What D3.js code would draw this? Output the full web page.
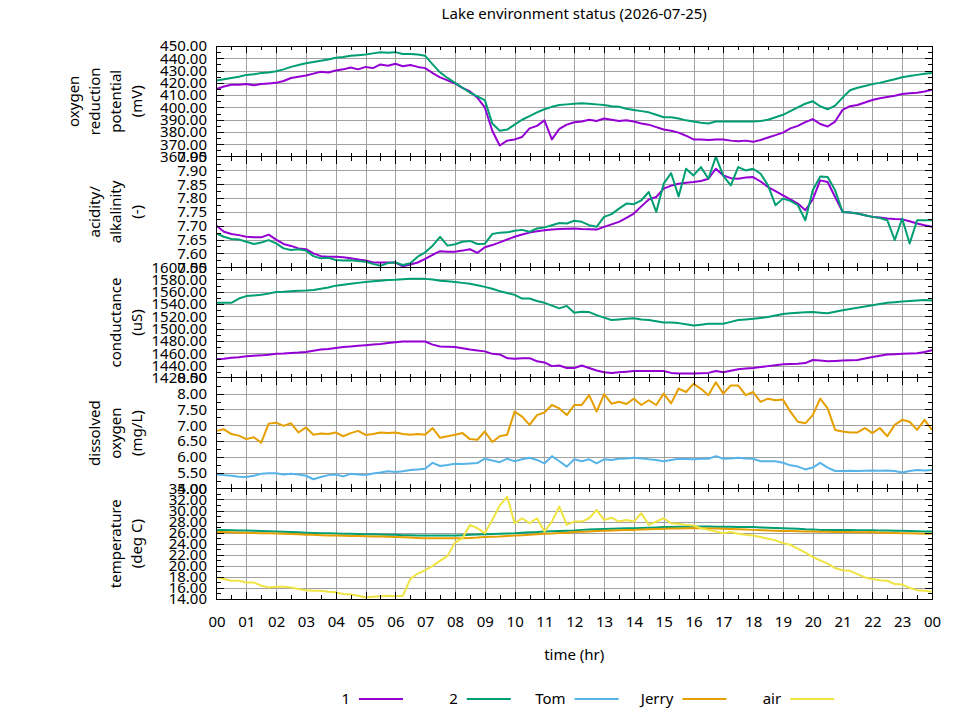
<!DOCTYPE html>
<html>
<head>
<meta charset="utf-8">
<script src="https://cdn.jsdelivr.net/npm/d3@7"></script>
<style>
  body { margin: 0; background: #fff; }
  svg { display: block; }
  text { font-family: "Noto Sans", sans-serif; font-size: 15px; fill: #000; }
</style>
</head>
<body>
<div id="chart"></div>
<script>
// ---- data (15 minute samples, one row per hour) ----
const hours = [
  0, 0.25, 0.5, 0.75, 1, 1.25, 1.5, 1.75, 2, 2.25, 2.5, 2.75,
  3, 3.25, 3.5, 3.75, 4, 4.25, 4.5, 4.75, 5, 5.25, 5.5, 5.75,
  6, 6.25, 6.5, 6.75, 7, 7.25, 7.5, 7.75, 8, 8.25, 8.5, 8.75,
  9, 9.25, 9.5, 9.75, 10, 10.25, 10.5, 10.75, 11, 11.25, 11.5, 11.75,
  12, 12.25, 12.5, 12.75, 13, 13.25, 13.5, 13.75, 14, 14.25, 14.5, 14.75,
  15, 15.25, 15.5, 15.75, 16, 16.25, 16.5, 16.75, 17, 17.25, 17.5, 17.75,
  18, 18.25, 18.5, 18.75, 19, 19.25, 19.5, 19.75, 20, 20.25, 20.5, 20.75,
  21, 21.25, 21.5, 21.75, 22, 22.25, 22.5, 22.75, 23, 23.25, 23.5, 23.75,
  24
];

const orp1 = [
  415, 417, 418.5, 418.5,   419, 418, 419, 419.5,     420, 421.5, 424, 425,
  426, 427.5, 429, 428.5,   430, 431, 432.5, 431,     433, 432, 435, 434,
  435.5, 433.5, 434.5, 433, 432, 428, 424.5, 422,     419.5, 416, 413, 408,
  400, 381, 369, 373,       374, 376, 383, 385,       389.5, 374, 382.5, 386,
  388, 388.5, 390, 389,     391, 390, 389, 389.5,     388.5, 387, 386, 384,
  382, 381, 379.5, 377,     374, 374, 373.5, 374,     374, 373, 372.5, 373,
  372, 373.5, 375.5, 377.5, 379.5, 383, 385, 388,     390.5, 386.5, 384.5, 388.5,
  398, 401, 402, 404,       406, 407.5, 408.5, 409.5, 411, 411.5, 412, 413,
  414.5
];
const orp2 = [
  422, 423, 424, 425,       426.5, 427, 428, 428.5,   429.5, 431, 433, 434.5,
  436, 437, 438, 439,       440.5, 441, 442, 442.5,   443, 444, 445, 444.5,
  445, 443.5, 443.5, 443,   442, 435, 428.5, 424,     420, 416, 412, 409,
  406, 387, 381, 382,       386, 390, 393, 396,       398.5, 400.5, 402, 402.5,
  403, 403.5, 403, 402.5,   402, 401, 400.5, 399,     398, 397, 396, 394,
  392, 392, 391, 389.5,     388.5, 387.5, 387, 388.5, 388.5, 388.5, 388.5, 388.5,
  388.5, 389, 390, 392,     394, 397, 400, 403,       405, 401, 398.5, 401.5,
  408, 414, 416, 417.5,     419, 420, 421.5, 423,     424.5, 425.5, 426.5, 427.5,
  428
];

const ph1 = [
  7.700, 7.678, 7.670, 7.666, 7.660, 7.658, 7.658, 7.668, 7.650, 7.634, 7.627, 7.618,
  7.615, 7.600, 7.590, 7.588, 7.588, 7.586, 7.582, 7.578, 7.574, 7.567, 7.567, 7.567,
  7.567, 7.553, 7.560, 7.567, 7.580, 7.595, 7.608, 7.606, 7.606, 7.610, 7.615, 7.602,
  7.622, 7.630, 7.640, 7.650, 7.660, 7.668, 7.675, 7.680, 7.684, 7.686, 7.688, 7.689,
  7.690, 7.688, 7.687, 7.686, 7.696, 7.705, 7.714, 7.728, 7.744, 7.770, 7.795, 7.804,
  7.834, 7.845, 7.852, 7.855, 7.858, 7.862, 7.870, 7.906, 7.882, 7.872, 7.870, 7.874,
  7.876, 7.860, 7.840, 7.825, 7.810, 7.795, 7.780, 7.756, 7.795, 7.864, 7.858, 7.804,
  7.750, 7.748, 7.744, 7.738, 7.732, 7.730, 7.726, 7.724, 7.723, 7.716, 7.708, 7.702,
  7.696
];
const ph2 = [
  7.672, 7.660, 7.652, 7.650, 7.642, 7.634, 7.639, 7.648, 7.636, 7.618, 7.612, 7.615,
  7.610, 7.590, 7.582, 7.584, 7.576, 7.574, 7.575, 7.572, 7.570, 7.562, 7.555, 7.565,
  7.567, 7.558, 7.564, 7.588, 7.604, 7.628, 7.660, 7.628, 7.633, 7.642, 7.645, 7.634,
  7.635, 7.670, 7.675, 7.676, 7.682, 7.685, 7.678, 7.690, 7.694, 7.702, 7.710, 7.708,
  7.718, 7.714, 7.702, 7.696, 7.732, 7.742, 7.762, 7.780, 7.778, 7.792, 7.822, 7.750,
  7.852, 7.890, 7.806, 7.906, 7.882, 7.912, 7.870, 7.950, 7.880, 7.846, 7.912, 7.900,
  7.906, 7.888, 7.846, 7.774, 7.798, 7.790, 7.774, 7.720, 7.828, 7.878, 7.876, 7.828,
  7.750, 7.748, 7.744, 7.738, 7.732, 7.728, 7.720, 7.648, 7.726, 7.636, 7.720, 7.720,
  7.720
];

const cond1 = [
  1450, 1451, 1452.5, 1453.5, 1455, 1456, 1456.5, 1457.5, 1459, 1459.5, 1460.5, 1461,
  1462, 1464, 1466, 1467,     1468.5, 1470, 1471, 1472,   1473, 1474, 1475, 1476.5,
  1478, 1479, 1479, 1479,     1479, 1474, 1471, 1470.5,   1470, 1468, 1466, 1464.5,
  1463, 1459, 1458, 1452,     1451, 1452, 1452, 1447,     1445, 1439, 1440, 1436,
  1436, 1440, 1436, 1432,     1429, 1428, 1429, 1430,     1431, 1431, 1431, 1431,
  1431, 1428, 1427, 1427,     1427, 1427.5, 1428, 1431,   1429, 1431.5, 1434, 1435,
  1436, 1437.5, 1439, 1440.5, 1442, 1442.5, 1443, 1444,   1449, 1448, 1447, 1447.5,
  1448, 1448.5, 1449, 1451.5, 1454, 1456, 1458, 1458.5,   1459, 1459.5, 1460, 1462,
  1465
];
const cond2 = [
  1542, 1542, 1542, 1549,     1553, 1554, 1555, 1557,     1559.5, 1560, 1561, 1561.5,
  1562, 1563, 1565, 1567,     1570, 1571.5, 1573, 1574.5, 1576, 1577, 1578, 1579,
  1579.5, 1580.5, 1581, 1581, 1581, 1580, 1578, 1577,     1576, 1574.5, 1573, 1570.5,
  1568, 1565, 1561, 1558,     1555, 1549, 1549, 1545,     1542, 1537.5, 1533, 1537,
  1526, 1527.5, 1527, 1522,   1518, 1514, 1515, 1516,     1517, 1515, 1514, 1512,
  1510, 1510, 1509, 1507,     1505, 1506.5, 1508, 1508,   1508, 1511, 1514, 1515,
  1516, 1517.5, 1519, 1521.5, 1524, 1525, 1526, 1526.5,   1527, 1526, 1525, 1527.5,
  1530, 1532, 1534, 1536,     1538, 1540, 1542, 1543,     1544, 1545, 1546, 1546.5,
  1546
];

const doTom = [
  5.44, 5.42, 5.40, 5.37, 5.36, 5.40, 5.46, 5.48, 5.48, 5.44, 5.46, 5.44,
  5.40, 5.29, 5.36, 5.42, 5.44, 5.38, 5.46, 5.44, 5.42, 5.47, 5.50, 5.54,
  5.52, 5.54, 5.58, 5.60, 5.62, 5.81, 5.71, 5.74, 5.78, 5.77, 5.79, 5.80,
  5.94, 5.88, 5.83, 5.94, 5.86, 5.92, 5.97, 5.90, 5.79, 6.02, 5.86, 5.69,
  5.92, 5.86, 5.92, 5.79, 5.92, 5.90, 5.94, 5.95, 5.97, 5.95, 5.92, 5.90,
  5.86, 5.90, 5.94, 5.93, 5.92, 5.94, 5.94, 6.02, 5.94, 5.95, 5.97, 5.95,
  5.94, 5.86, 5.86, 5.86, 5.81, 5.73, 5.69, 5.60, 5.66, 5.81, 5.66, 5.55,
  5.55, 5.56, 5.55, 5.56, 5.57, 5.56, 5.57, 5.55, 5.50, 5.55, 5.58, 5.57,
  5.58
];
const doJerry = [
  6.82, 6.87, 6.72, 6.67, 6.56, 6.62, 6.45, 7.05, 7.08, 6.98, 7.06, 6.77,
  6.93, 6.70, 6.74, 6.72, 6.77, 6.65, 6.75, 6.82, 6.69, 6.72, 6.77, 6.75,
  6.77, 6.72, 6.70, 6.72, 6.70, 6.91, 6.60, 6.65, 6.70, 6.75, 6.56, 6.54,
  6.80, 6.47, 6.65, 6.70, 7.43, 7.27, 7.01, 7.32, 7.40, 7.64, 7.53, 7.32,
  7.64, 7.64, 7.95, 7.43, 7.98, 7.68, 7.74, 7.67, 7.84, 7.64, 7.79, 7.64,
  8.00, 7.69, 8.16, 8.05, 8.31, 8.15, 7.95, 8.36, 8.00, 8.26, 8.26, 7.95,
  8.05, 7.74, 7.84, 7.79, 7.81, 7.43, 7.11, 7.06, 7.32, 7.84, 7.53, 6.85,
  6.80, 6.77, 6.77, 6.91, 6.75, 6.91, 6.65, 7.01, 7.17, 7.11, 6.85, 7.17,
  6.85
];

const temp2 = [
  26.5, 26.5, 26.45, 26.4,   26.4, 26.35, 26.3, 26.25,  26.2, 26.15, 26.1, 26.05,
  26.0, 25.95, 25.9, 25.9,   25.85, 25.8, 25.8, 25.75,  25.7, 25.7, 25.65, 25.6,
  25.6, 25.55, 25.55, 25.5,  25.5, 25.5, 25.5, 25.5,    25.5, 25.55, 25.6, 25.65,
  25.7, 25.75, 25.8, 25.85,  25.9, 26.0, 26.05, 26.1,   26.2, 26.25, 26.3, 26.35,
  26.4, 26.5, 26.55, 26.6,   26.65, 26.7, 26.75, 26.8,  26.8, 26.85, 26.9, 26.95,
  27.0, 27.0, 27.05, 27.05,  27.1, 27.1, 27.1, 27.05,   27.05, 27.05, 27.0, 27.0,
  27.0, 26.95, 26.9, 26.85,  26.8, 26.75, 26.7, 26.6,   26.55, 26.5, 26.5, 26.5,
  26.5, 26.5, 26.45, 26.45,  26.45, 26.4, 26.4, 26.35,  26.35, 26.3, 26.25, 26.2,
  26.2
];
const tempJerry = [
  26.1, 26.1, 26.05, 26.0,   26.0, 25.95, 25.9, 25.9,   25.85, 25.8, 25.75, 25.7,
  25.6, 25.6, 25.55, 25.5,   25.5, 25.45, 25.4, 25.4,   25.35, 25.3, 25.3, 25.25,
  25.2, 25.15, 25.1, 25.05,  25.0, 25.0, 25.0, 25.0,    25.0, 25.0, 25.05, 25.1,
  25.2, 25.25, 25.3, 25.4,   25.5, 25.55, 25.6, 25.7,   25.8, 25.85, 25.95, 26.0,
  26.1, 26.15, 26.2, 26.3,   26.35, 26.4, 26.45, 26.5,  26.5, 26.55, 26.6, 26.65,
  26.7, 26.75, 26.75, 26.8,  26.8, 26.8, 26.75, 26.75,  26.7, 26.65, 26.6, 26.55,
  26.5, 26.45, 26.4, 26.35,  26.3, 26.3, 26.25, 26.2,   26.2, 26.15, 26.15, 26.1,
  26.1, 26.1, 26.05, 26.05,  26.1, 26.0, 26.0, 25.95,   25.9, 25.9, 25.85, 25.8,
  25.8
];
const tempAir = [
  17.9, 17.6, 17.3, 17.3,  17.0, 17.0, 16.4, 16.1,  16.2, 16.2, 16.1, 15.8,
  15.6, 15.5, 15.5, 15.3,  15.2, 14.9, 14.8, 14.6,  14.3, 14.4, 14.5, 14.6,
  14.5, 14.6, 17.6, 18.6,  19.2, 20.0, 20.9, 21.8,  24.2, 25.0, 27.4, 26.8,
  25.9, 28.3, 30.9, 32.5,  27.7, 28.6, 27.7, 28.6,  26.2, 28.0, 30.7, 27.4,
  28.0, 28.0, 28.6, 30.1,  28.3, 28.7, 28.0, 28.3,  28.0, 29.5, 27.4, 28.0,
  28.6, 27.7, 27.6, 27.4,  27.3, 26.8, 26.5, 26.2,  25.9, 26.1, 25.8, 25.6,
  25.5, 25.2, 24.9, 24.6,  24.1, 23.8, 23.1, 22.4,  21.6, 21.0, 20.4, 19.6,
  19.2, 19.1, 18.5, 17.9,  17.6, 17.4, 17.3, 16.7,  16.6, 16.0, 15.6, 15.5,
  15.3
];

// ---- axes ----
const hourTicks = [0, 1, 2, 3, 4, 5, 6, 7, 8, 9, 10, 11, 12, 13, 14, 15, 16, 17, 18, 19, 20, 21, 22, 23, 24];
const hourLabels = ["00", "01", "02", "03", "04", "05", "06", "07", "08", "09", "10", "11",
  "12", "13", "14", "15", "16", "17", "18", "19", "20", "21", "22", "23", "00"];

const orpTicks = [360, 370, 380, 390, 400, 410, 420, 430, 440, 450];
const phTicks = [7.55, 7.60, 7.65, 7.70, 7.75, 7.80, 7.85, 7.90, 7.95];
const condTicks = [1420, 1440, 1460, 1480, 1500, 1520, 1540, 1560, 1580, 1600];
const doTicks = [5.00, 5.50, 6.00, 6.50, 7.00, 7.50, 8.00, 8.50];
const tempTicks = [14, 16, 18, 20, 22, 24, 26, 28, 30, 32, 34];

const chartTitle = "Lake environment status (2026-07-25)";
const xTitle = "time (hr)";

const seriesNames = ["1", "2", "Tom", "Jerry", "air"];
const seriesColors = ["#9400d3", "#009e73", "#56b4e9", "#e69f00", "#f0e442"];

const panelTitles = [
  ["oxygen", "reduction", "potential", "(mV)"],
  ["acidity/", "alkalinity", "(-)"],
  ["conductance", "(uS)"],
  ["dissolved", "oxygen", "(mg/L)"],
  ["temperature", "(deg C)"]
];
const panelTicks = [orpTicks, phTicks, condTicks, doTicks, tempTicks];
const panelSeries = [
  [["1", orp1], ["2", orp2]],
  [["1", ph1], ["2", ph2]],
  [["1", cond1], ["2", cond2]],
  [["Tom", doTom], ["Jerry", doJerry]],
  [["2", temp2], ["Jerry", tempJerry], ["air", tempAir]]
];

// ---- layout ----
const width = 960, height = 720;
const plotLeft = 216.5, plotRight = 932;
const panelTops = [46, 156.6, 267.2, 377.8, 488.4];
const panelH = 110.6;
const gridColor = "#a0a0a0";
const majorLen = 7, minorLen = 4;

const color = d3.scaleOrdinal().domain(seriesNames).range(seriesColors);
const x = d3.scaleLinear().domain([0, 24]).range([plotLeft, plotRight]);

const svg = d3.select("#chart").append("svg")
  .attr("width", width)
  .attr("height", height)
  .attr("viewBox", `0 0 ${width} ${height}`);

svg.append("text")
  .attr("x", (plotLeft + plotRight) / 2)
  .attr("y", 19)
  .attr("text-anchor", "middle")
  .text(chartTitle);

const halfHours = hourTicks.slice(0, -1).map(h => h + 0.5);

// black inward ticks on a panel edge
function edgeTicks(g, axis, transform, len) {
  g.append("g")
    .attr("transform", transform)
    .call(axis.tickSize(-len).tickFormat(""))
    .call(a => a.select(".domain").remove())
    .call(a => a.selectAll("line").attr("stroke", "#000").attr("shape-rendering", "crispEdges"));
}

panelTicks.forEach((ticks, i) => {
  const top = panelTops[i], bottom = top + panelH;
  const y = d3.scaleLinear().domain([ticks[0], ticks[ticks.length - 1]]).range([bottom, top]);
  const minorY = ticks.slice(0, -1).map((t, k) => (t + ticks[k + 1]) / 2);
  const g = svg.append("g").attr("class", "panel");

  // grid
  g.append("g")
    .attr("transform", `translate(0,${bottom})`)
    .call(d3.axisBottom(x).tickValues(hourTicks.slice(1, -1)).tickSize(-panelH).tickFormat(""))
    .call(a => a.select(".domain").remove())
    .call(a => a.selectAll("line").attr("stroke", gridColor).attr("shape-rendering", "crispEdges"));
  g.append("g")
    .attr("transform", `translate(${plotLeft},0)`)
    .call(d3.axisLeft(y).tickValues(ticks.slice(1, -1)).tickSize(-(plotRight - plotLeft)).tickFormat(""))
    .call(a => a.select(".domain").remove())
    .call(a => a.selectAll("line").attr("stroke", gridColor).attr("shape-rendering", "crispEdges"));

  // data
  const clipId = `clip-${i}`;
  g.append("clipPath").attr("id", clipId)
    .append("rect")
    .attr("x", plotLeft).attr("y", top)
    .attr("width", plotRight - plotLeft).attr("height", panelH);

  const line = d3.line()
    .x((d, k) => x(hours[k]))
    .y(d => y(d));

  panelSeries[i].forEach(([name, values]) => {
    g.append("path")
      .datum(values)
      .attr("clip-path", `url(#${clipId})`)
      .attr("fill", "none")
      .attr("stroke", color(name))
      .attr("stroke-width", 2)
      .attr("stroke-linejoin", "round")
      .attr("d", line);
  });

  // border
  g.append("rect")
    .attr("x", plotLeft).attr("y", top)
    .attr("width", plotRight - plotLeft).attr("height", panelH)
    .attr("fill", "none")
    .attr("stroke", "#000")
    .attr("shape-rendering", "crispEdges");

  // ticks on all four sides
  const inner = ticks.slice(1, -1);
  const innerHours = hourTicks.slice(1, -1);
  edgeTicks(g, d3.axisLeft(y).tickValues(inner), `translate(${plotLeft},0)`, majorLen);
  edgeTicks(g, d3.axisRight(y).tickValues(inner), `translate(${plotRight},0)`, majorLen);
  edgeTicks(g, d3.axisLeft(y).tickValues(minorY), `translate(${plotLeft},0)`, minorLen);
  edgeTicks(g, d3.axisRight(y).tickValues(minorY), `translate(${plotRight},0)`, minorLen);
  edgeTicks(g, d3.axisTop(x).tickValues(innerHours), `translate(0,${top})`, majorLen);
  edgeTicks(g, d3.axisBottom(x).tickValues(innerHours), `translate(0,${bottom})`, majorLen);
  edgeTicks(g, d3.axisTop(x).tickValues(halfHours), `translate(0,${top})`, minorLen);
  edgeTicks(g, d3.axisBottom(x).tickValues(halfHours), `translate(0,${bottom})`, minorLen);

  // tick labels
  g.append("g")
    .attr("transform", `translate(${plotLeft},0)`)
    .call(d3.axisLeft(y).tickValues(ticks).tickSize(0).tickPadding(9.5).tickFormat(d3.format(".2f")))
    .call(a => a.select(".domain").remove())
    .call(a => a.selectAll("text")
      .attr("fill", "#000")
      .style("font-family", '"Noto Sans", sans-serif')
      .style("font-size", "15px"));

  // panel title, one rotated line per text row
  const lines = panelTitles[i];
  const cy = top + panelH / 2;
  lines.forEach((txt, k) => {
    const bx = 142 - (lines.length - 1 - k) * 21;
    svg.append("text")
      .attr("transform", `translate(${bx},${cy}) rotate(-90)`)
      .attr("text-anchor", "middle")
      .text(txt);
  });
});

// x tick labels under the last panel
const lastBottom = panelTops[panelTops.length - 1] + panelH;
svg.append("g")
  .attr("transform", `translate(0,${lastBottom})`)
  .call(d3.axisBottom(x).tickValues(hourTicks).tickSize(0).tickPadding(17)
    .tickFormat((d, k) => hourLabels[k]))
  .call(a => a.select(".domain").remove())
  .call(a => a.selectAll("text")
    .attr("fill", "#000")
    .style("font-family", '"Noto Sans", sans-serif')
    .style("font-size", "15px"));

svg.append("text")
  .attr("x", (plotLeft + plotRight) / 2)
  .attr("y", 660)
  .attr("text-anchor", "middle")
  .text(xTitle);

// legend
const legendY = 699;
const legendStart = 359, legendStep = 107.8, legendLen = 44;
const legend = svg.append("g").attr("class", "legend");
seriesNames.forEach((name, k) => {
  const lx = legendStart + k * legendStep;
  legend.append("line")
    .attr("x1", lx).attr("x2", lx + legendLen)
    .attr("y1", legendY).attr("y2", legendY)
    .attr("stroke", color(name))
    .attr("stroke-width", 2);
  legend.append("text")
    .attr("x", lx - 9)
    .attr("y", legendY + 5)
    .attr("text-anchor", "end")
    .text(name);
});
</script>
</body>
</html>
